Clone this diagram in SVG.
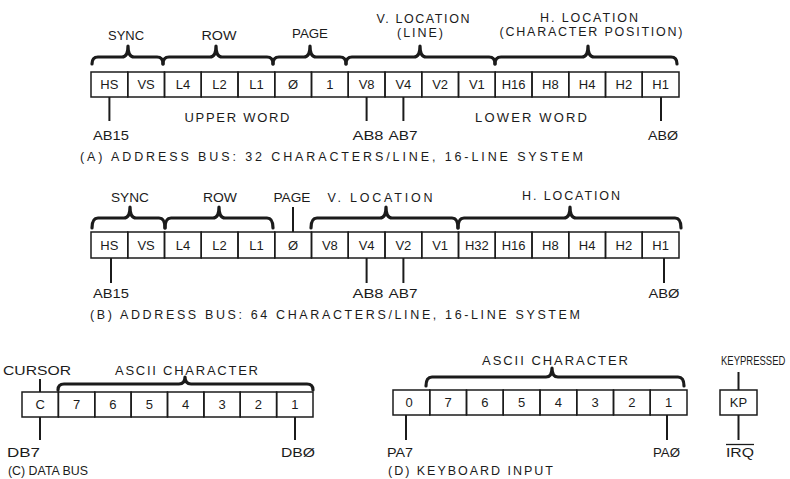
<svg xmlns="http://www.w3.org/2000/svg" width="790" height="479" viewBox="0 0 790 479">
<style>
  text { font-family: "Liberation Sans", Arial, sans-serif; font-size: 13px; fill: #1b1b1b; }
  .m { text-anchor: middle; }
  .cap { font-size: 12.5px; }
  .hd { font-size: 12.5px; }
  .sm { font-size: 9.5px; }
  .cell { fill: none; stroke: #1b1b1b; stroke-width: 1.5; }
  .brace { fill: none; stroke: #1b1b1b; stroke-width: 3.2; stroke-linejoin: round; stroke-linecap: round; }
  .tick { stroke: #1b1b1b; stroke-width: 2; }
</style>
<rect width="790" height="479" fill="#ffffff"/>

<!-- (A) address bus, 32 chars/line -->
<g id="regA">
  <g id="regA-cells">
    <rect class="cell" x="91" y="72" width="36.75" height="25"/><text class="m" x="109.4" y="89">HS</text>
    <rect class="cell" x="127.75" y="72" width="36.75" height="25"/><text class="m" x="146.1" y="89">VS</text>
    <rect class="cell" x="164.5" y="72" width="36.75" height="25"/><text class="m" x="182.9" y="89">L4</text>
    <rect class="cell" x="201.25" y="72" width="36.75" height="25"/><text class="m" x="219.6" y="89">L2</text>
    <rect class="cell" x="238" y="72" width="36.75" height="25"/><text class="m" x="256.4" y="89">L1</text>
    <rect class="cell" x="274.75" y="72" width="36.75" height="25"/><text class="m" x="293.1" y="89">Ø</text>
    <rect class="cell" x="311.5" y="72" width="36.75" height="25"/><text class="m" x="329.9" y="89">1</text>
    <rect class="cell" x="348.25" y="72" width="36.75" height="25"/><text class="m" x="366.6" y="89">V8</text>
    <rect class="cell" x="385" y="72" width="36.75" height="25"/><text class="m" x="403.4" y="89">V4</text>
    <rect class="cell" x="421.75" y="72" width="36.75" height="25"/><text class="m" x="440.1" y="89">V2</text>
    <rect class="cell" x="458.5" y="72" width="36.75" height="25"/><text class="m" x="476.9" y="89">V1</text>
    <rect class="cell" x="495.25" y="72" width="36.75" height="25"/><text class="m" x="513.6" y="89">H16</text>
    <rect class="cell" x="532" y="72" width="36.75" height="25"/><text class="m" x="550.4" y="89">H8</text>
    <rect class="cell" x="568.75" y="72" width="36.75" height="25"/><text class="m" x="587.1" y="89">H4</text>
    <rect class="cell" x="605.5" y="72" width="36.75" height="25"/><text class="m" x="623.9" y="89">H2</text>
    <rect class="cell" x="642.25" y="72" width="36.75" height="25"/><text class="m" x="660.6" y="89">H1</text>
  </g>
  <g id="regA-braces">
    <path class="brace" d="M92,64 Q92,57 98,57 L122,57 Q128,57 128,46 Q128,57 134,57 L157,57 Q163,57 163,64"/>
    <path class="brace" d="M163,64 Q163,57 169,57 L210,57 Q216,57 216,46 Q216,57 222,57 L267,57 Q273,57 273,64"/>
    <path class="brace" d="M273,64 Q273,57 279,57 L304,57 Q310,57 310,46 Q310,57 316,57 L340,57 Q346,57 346,64"/>
    <path class="brace" d="M346,64 Q346,57 352,57 L414,57 Q420,57 420,46 Q420,57 426,57 L489,57 Q495,57 495,64"/>
    <path class="brace" d="M495,64 Q495,57 501,57 L582,57 Q588,57 588,46 Q588,57 594,57 L671,57 Q677,57 677,64"/>
  </g>
  <text class="m hd" x="126" y="40" textLength="36" lengthAdjust="spacingAndGlyphs">SYNC</text>
  <text class="m hd" x="219" y="40" textLength="35" lengthAdjust="spacingAndGlyphs">ROW</text>
  <text class="m hd" x="310" y="38" textLength="36" lengthAdjust="spacingAndGlyphs">PAGE</text>
  <text class="m hd" x="423" y="23" textLength="93" lengthAdjust="spacing">V. LOCATION</text>
  <text class="m hd" x="420" y="37" textLength="46" lengthAdjust="spacing">(LINE)</text>
  <text class="m hd" x="589" y="22" textLength="98" lengthAdjust="spacing">H. LOCATION</text>
  <text class="m hd" x="591" y="36" textLength="183" lengthAdjust="spacing">(CHARACTER POSITION)</text>
  <text class="m" x="237" y="122" textLength="105" lengthAdjust="spacing">UPPER WORD</text>
  <text class="m" x="531" y="122" textLength="112" lengthAdjust="spacing">LOWER WORD</text>
  <text x="93" y="140" textLength="36" lengthAdjust="spacingAndGlyphs">AB15</text>
  <text class="m" x="368" y="140" textLength="31" lengthAdjust="spacingAndGlyphs">AB8</text>
  <text class="m" x="403" y="140" textLength="29" lengthAdjust="spacingAndGlyphs">AB7</text>
  <text class="m" x="663" y="140" textLength="30" lengthAdjust="spacingAndGlyphs">ABØ</text>
  <text class="cap" x="80" y="161" textLength="503" lengthAdjust="spacing">(A) ADDRESS BUS: 32 CHARACTERS/LINE, 16-LINE SYSTEM</text>
</g>

<!-- (B) address bus, 64 chars/line -->
<g id="regB">
  <g id="regB-cells">
    <rect class="cell" x="91" y="232" width="36.75" height="26"/><text class="m" x="109.4" y="250">HS</text>
    <rect class="cell" x="127.75" y="232" width="36.75" height="26"/><text class="m" x="146.1" y="250">VS</text>
    <rect class="cell" x="164.5" y="232" width="36.75" height="26"/><text class="m" x="182.9" y="250">L4</text>
    <rect class="cell" x="201.25" y="232" width="36.75" height="26"/><text class="m" x="219.6" y="250">L2</text>
    <rect class="cell" x="238" y="232" width="36.75" height="26"/><text class="m" x="256.4" y="250">L1</text>
    <rect class="cell" x="274.75" y="232" width="36.75" height="26"/><text class="m" x="293.1" y="250">Ø</text>
    <rect class="cell" x="311.5" y="232" width="36.75" height="26"/><text class="m" x="329.9" y="250">V8</text>
    <rect class="cell" x="348.25" y="232" width="36.75" height="26"/><text class="m" x="366.6" y="250">V4</text>
    <rect class="cell" x="385" y="232" width="36.75" height="26"/><text class="m" x="403.4" y="250">V2</text>
    <rect class="cell" x="421.75" y="232" width="36.75" height="26"/><text class="m" x="440.1" y="250">V1</text>
    <rect class="cell" x="458.5" y="232" width="36.75" height="26"/><text class="m" x="476.9" y="250">H32</text>
    <rect class="cell" x="495.25" y="232" width="36.75" height="26"/><text class="m" x="513.6" y="250">H16</text>
    <rect class="cell" x="532" y="232" width="36.75" height="26"/><text class="m" x="550.4" y="250">H8</text>
    <rect class="cell" x="568.75" y="232" width="36.75" height="26"/><text class="m" x="587.1" y="250">H4</text>
    <rect class="cell" x="605.5" y="232" width="36.75" height="26"/><text class="m" x="623.9" y="250">H2</text>
    <rect class="cell" x="642.25" y="232" width="36.75" height="26"/><text class="m" x="660.6" y="250">H1</text>
  </g>
  <g id="regB-braces">
    <path class="brace" d="M92,228 Q92,218 98,218 L124,218 Q130,218 130,207 Q130,218 136,218 L159,218 Q165,218 165,228"/>
    <path class="brace" d="M165,228 Q165,218 171,218 L213,218 Q219,218 219,207 Q219,218 225,218 L267,218 Q273,218 273,228"/>
    <path class="brace" d="M311,228 Q311,218 317,218 L380,218 Q386,218 386,207 Q386,218 392,218 L452,218 Q458,218 458,228"/>
    <path class="brace" d="M458,228 Q458,218 464,218 L564,218 Q570,218 570,207 Q570,218 576,218 L675,218 Q681,218 681,228"/>
  </g>
  <text class="m hd" x="130" y="202" textLength="38" lengthAdjust="spacingAndGlyphs">SYNC</text>
  <text class="m hd" x="220" y="202" textLength="34" lengthAdjust="spacingAndGlyphs">ROW</text>
  <text class="m hd" x="292" y="202" textLength="37" lengthAdjust="spacingAndGlyphs">PAGE</text>
  <text class="m hd" x="380" y="202" textLength="105" lengthAdjust="spacing">V. LOCATION</text>
  <text class="m hd" x="571" y="200" textLength="98" lengthAdjust="spacing">H. LOCATION</text>
  <text x="93" y="298" textLength="36" lengthAdjust="spacingAndGlyphs">AB15</text>
  <text class="m" x="368" y="298" textLength="31" lengthAdjust="spacingAndGlyphs">AB8</text>
  <text class="m" x="403" y="298" textLength="29" lengthAdjust="spacingAndGlyphs">AB7</text>
  <text class="m" x="664" y="298" textLength="31" lengthAdjust="spacingAndGlyphs">ABØ</text>
  <text class="cap" x="90" y="319" textLength="490" lengthAdjust="spacing">(B) ADDRESS BUS: 64 CHARACTERS/LINE, 16-LINE SYSTEM</text>
</g>

<!-- (C) data bus -->
<g id="regC">
  <g id="regC-cells">
    <rect class="cell" x="22" y="392" width="36.375" height="25"/><text class="m" x="40.2" y="409">C</text>
    <rect class="cell" x="58.375" y="392" width="36.375" height="25"/><text class="m" x="76.6" y="409">7</text>
    <rect class="cell" x="94.75" y="392" width="36.375" height="25"/><text class="m" x="112.9" y="409">6</text>
    <rect class="cell" x="131.125" y="392" width="36.375" height="25"/><text class="m" x="149.3" y="409">5</text>
    <rect class="cell" x="167.5" y="392" width="36.375" height="25"/><text class="m" x="185.7" y="409">4</text>
    <rect class="cell" x="203.875" y="392" width="36.375" height="25"/><text class="m" x="222.1" y="409">3</text>
    <rect class="cell" x="240.25" y="392" width="36.375" height="25"/><text class="m" x="258.4" y="409">2</text>
    <rect class="cell" x="276.625" y="392" width="36.375" height="25"/><text class="m" x="294.8" y="409">1</text>
  </g>
  <path class="brace" d="M58,390 Q58,384 64,384 L179,384 Q185,384 185,377 Q185,384 191,384 L307,384 Q313,384 313,390"/>
  <text x="3" y="375" textLength="68" lengthAdjust="spacingAndGlyphs">CURSOR</text>
  <text x="115" y="375" textLength="143" lengthAdjust="spacing">ASCII CHARACTER</text>
  <text x="7" y="457" textLength="33" lengthAdjust="spacingAndGlyphs">DB7</text>
  <text class="m" x="298" y="457" textLength="34" lengthAdjust="spacingAndGlyphs">DBØ</text>
  <text class="cap" x="8" y="475" textLength="80" lengthAdjust="spacingAndGlyphs">(C) DATA BUS</text>
</g>

<!-- (D) keyboard input -->
<g id="regD">
  <g id="regD-cells">
    <rect class="cell" x="393" y="390" width="36.75" height="25"/><text class="m" x="409" y="407">0</text>
    <rect class="cell" x="429.75" y="390" width="36.75" height="25"/><text class="m" x="448.1" y="407">7</text>
    <rect class="cell" x="466.5" y="390" width="36.75" height="25"/><text class="m" x="484.9" y="407">6</text>
    <rect class="cell" x="503.25" y="390" width="36.75" height="25"/><text class="m" x="521.6" y="407">5</text>
    <rect class="cell" x="540" y="390" width="36.75" height="25"/><text class="m" x="558.4" y="407">4</text>
    <rect class="cell" x="576.75" y="390" width="36.75" height="25"/><text class="m" x="595.1" y="407">3</text>
    <rect class="cell" x="613.5" y="390" width="36.75" height="25"/><text class="m" x="631.9" y="407">2</text>
    <rect class="cell" x="650.25" y="390" width="36.75" height="25"/><text class="m" x="668.6" y="407">1</text>
  </g>
  <path class="brace" d="M426,386 Q426,377 432,377 L546,377 Q552,377 552,368 Q552,377 558,377 L678,377 Q684,377 684,386"/>
  <text x="482" y="365" textLength="146" lengthAdjust="spacing">ASCII CHARACTER</text>
  <text x="387" y="457" textLength="26" lengthAdjust="spacingAndGlyphs">PA7</text>
  <text x="653" y="457" textLength="27" lengthAdjust="spacingAndGlyphs">PAØ</text>
  <text class="cap" x="388" y="475" textLength="165" lengthAdjust="spacing">(D) KEYBOARD INPUT</text>
</g>

<!-- keypressed flag -->
<g id="kp">
  <rect class="cell" x="720" y="390" width="37" height="25"/>
  <text class="m" x="738.5" y="407">KP</text>
  <text class="sm" transform="translate(721,365) scale(1,1.3)" x="0" y="0">KEYPRESSED</text>
  <text class="m" x="740" y="457" textLength="28" lengthAdjust="spacingAndGlyphs">IRQ</text>
  <line x1="726" y1="444.5" x2="754" y2="444.5" stroke="#1b1b1b" stroke-width="1.3"/>
</g>

<!-- connectors -->
<g id="connectors">
  <line class="tick" x1="109.4" y1="97" x2="109.4" y2="121"/>
  <line class="tick" x1="366.6" y1="97" x2="366.6" y2="121"/>
  <line class="tick" x1="403.4" y1="97" x2="403.4" y2="121"/>
  <line class="tick" x1="661" y1="97" x2="661" y2="121"/>

  <line class="tick" x1="293" y1="207" x2="293" y2="232"/>
  <line class="tick" x1="111" y1="258" x2="111" y2="283"/>
  <line class="tick" x1="366.6" y1="258" x2="366.6" y2="283"/>
  <line class="tick" x1="403.4" y1="258" x2="403.4" y2="283"/>
  <line class="tick" x1="664" y1="258" x2="664" y2="283"/>

  <line class="tick" x1="40" y1="379" x2="40" y2="392"/>
  <line class="tick" x1="40" y1="417" x2="40" y2="440"/>
  <line class="tick" x1="295" y1="417" x2="295" y2="440"/>

  <line class="tick" x1="406" y1="415" x2="406" y2="440"/>
  <line class="tick" x1="667" y1="415" x2="667" y2="440"/>
  <line class="tick" x1="738.5" y1="372" x2="738.5" y2="390"/>
  <line class="tick" x1="738.5" y1="415" x2="738.5" y2="440"/>
</g>
</svg>
